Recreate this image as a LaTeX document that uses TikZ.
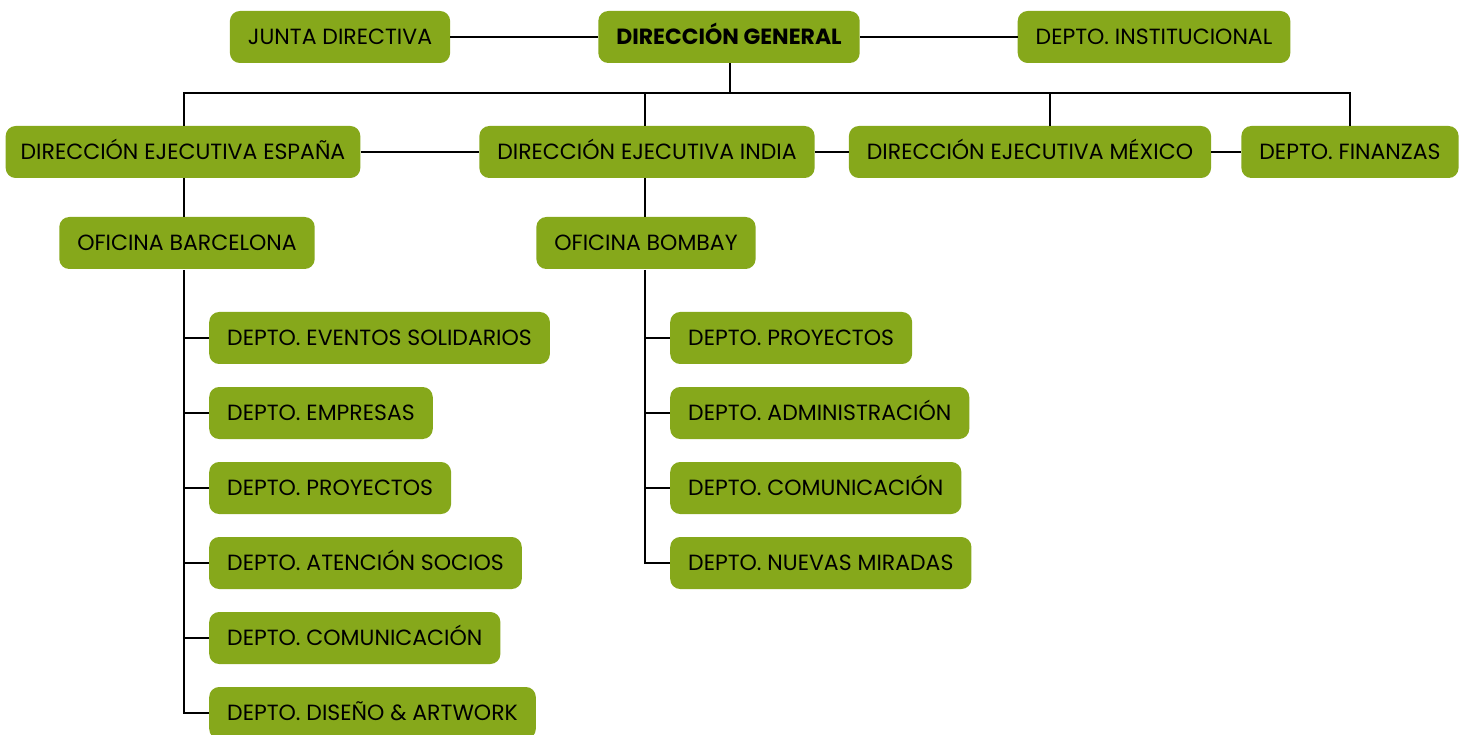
\documentclass[tikz,border=0pt]{standalone}
\usepackage{fontspec}
\setmainfont{Poppins}
\definecolor{hojaverde}{RGB}{134,168,27}
\begin{document}
\begin{tikzpicture}[
		x = 1pt, y = -1pt,
		caja/.style = { fill = hojaverde, rounded corners = 10pt, minimum height = 52pt,
			inner xsep = 18pt, text height = 15pt, text depth = 0pt,
			font = \fontsize{22}{26}\selectfont },
		depto/.style = { caja, anchor = west },
		linea/.style = { draw, line width = 2.8pt }
	]
	\useasboundingbox (0,0) rectangle (1465,735);

	% cabecera
	\node [caja] (junta) at (340,37) { JUNTA DIRECTIVA };
	\node [caja, font = \fontsize{22}{26}\selectfont\bfseries] (general) at (729,37) { DIRECCIÓN GENERAL };
	\node [caja] (institucional) at (1154,37) { DEPTO. INSTITUCIONAL };

	% direcciones ejecutivas
	\node [caja, inner xsep = 15pt] (espana) at (183,152) { DIRECCIÓN EJECUTIVA ESPAÑA };
	\node [caja] (india) at (647,152) { DIRECCIÓN EJECUTIVA INDIA };
	\node [caja] (mexico) at (1030,152) { DIRECCIÓN EJECUTIVA MÉXICO };
	\node [caja] (finanzas) at (1350,152) { DEPTO. FINANZAS };

	% oficinas
	\node [caja] (barcelona) at (187,243) { OFICINA BARCELONA };
	\node [caja] (bombay) at (646,243) { OFICINA BOMBAY };

	% departamentos barcelona
	\node [depto] (bcn1) at (209,338) { DEPTO. EVENTOS SOLIDARIOS };
	\node [depto] (bcn2) at (209,413) { DEPTO. EMPRESAS };
	\node [depto] (bcn3) at (209,488) { DEPTO. PROYECTOS };
	\node [depto] (bcn4) at (209,563) { DEPTO. ATENCIÓN SOCIOS };
	\node [depto] (bcn5) at (209,638) { DEPTO. COMUNICACIÓN };
	\node [depto] (bcn6) at (209,713) { DEPTO. DISEÑO \& ARTWORK };

	% departamentos bombay
	\node [depto] (bom1) at (670,338) { DEPTO. PROYECTOS };
	\node [depto] (bom2) at (670,413) { DEPTO. ADMINISTRACIÓN };
	\node [depto] (bom3) at (670,488) { DEPTO. COMUNICACIÓN };
	\node [depto] (bom4) at (670,563) { DEPTO. NUEVAS MIRADAS };

	\coordinate (bus) at (730,93);
	\coordinate (busmx) at (1050,93);
	\coordinate (ejebcn) at (184,270);
	\coordinate (ejebom) at (645,270);

	% conexiones
	\begin{scope}[on background layer/.try]
	\draw [linea] (junta) -- (general);
	\draw [linea] (general) -- (institucional);
	\draw [linea] (general.south -| bus) -- (bus);
	\draw [linea] (espana.north -| ejebcn) -- (ejebcn |- bus) -- (finanzas.north |- bus) -- (finanzas.north);
	\draw [linea] (india.north -| ejebom) -- (ejebom |- bus);
	\draw [linea] (busmx) -- (busmx |- mexico.north);
	\draw [linea] (espana) -- (india);
	\draw [linea] (india) -- (mexico);
	\draw [linea] (mexico) -- (finanzas);
	\draw [linea] (espana.south -| ejebcn) -- (barcelona.north -| ejebcn);
	\draw [linea] (india.south -| ejebom) -- (bombay.north -| ejebom);
	\draw [linea] (ejebcn) |- (bcn6.west);
	\draw [linea] (ejebcn |- bcn1) -- (bcn1.west);
	\draw [linea] (ejebcn |- bcn2) -- (bcn2.west);
	\draw [linea] (ejebcn |- bcn3) -- (bcn3.west);
	\draw [linea] (ejebcn |- bcn4) -- (bcn4.west);
	\draw [linea] (ejebcn |- bcn5) -- (bcn5.west);
	\draw [linea] (ejebom) |- (bom4.west);
	\draw [linea] (ejebom |- bom1) -- (bom1.west);
	\draw [linea] (ejebom |- bom2) -- (bom2.west);
	\draw [linea] (ejebom |- bom3) -- (bom3.west);
	\end{scope}
\end{tikzpicture}
\end{document}
